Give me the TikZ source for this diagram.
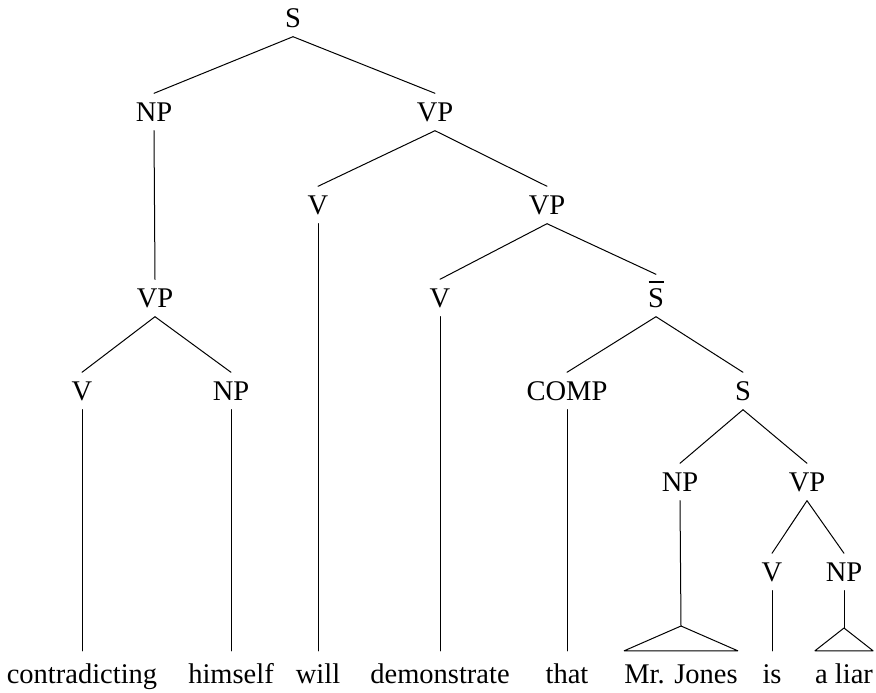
\documentclass[tikz,border=0pt]{standalone}
\usepackage{fontspec}
\setmainfont{Liberation Serif}
\begin{document}
\begin{tikzpicture}[x=1pt,y=-1pt,
  cat/.style={inner xsep=0pt,inner ysep=9pt,text height=19pt,text depth=0pt,
    font=\fontsize{28.5}{30}\selectfont},
  word/.style={anchor=base,inner xsep=0pt,inner ysep=13pt,text height=19pt,text depth=6pt,
    font=\fontsize{28.5}{30}\selectfont},
  branch/.style={line width=1pt,line cap=round}]
\useasboundingbox (0,0) rectangle (876,693);

% categories
\node[cat] (s0) at (293,18) {S};
\node[cat] (np1) at (154,112) {NP};
\node[cat] (vp1) at (435,112) {VP};
\node[cat] (v1) at (318,205) {V};
\node[cat] (vp2) at (547,205) {VP};
\node[cat] (vp3) at (155,298) {VP};
\node[cat] (v2) at (440,298) {V};
\node[cat] (sbar) at (656,298) {\rlap{\hspace{0.5pt}\rule[25pt]{15pt}{1.1pt}}S};
\node[cat] (v3) at (82,391) {V};
\node[cat] (np2) at (231,391) {NP};
\node[cat] (comp) at (567,391) {COMP};
\node[cat] (s2) at (743,391) {S};
\node[cat] (np3) at (680,482) {NP};
\node[cat] (vp4) at (807,482) {VP};
\node[cat] (v4) at (772,572) {V};
\node[cat] (np4) at (844,572) {NP};

% terminal words
\node[word] (w1) at (82,683) {contradicting};
\node[word] (w2) at (231,683) {himself};
\node[word] (w3) at (318,683) {will};
\node[word] (w4) at (440,683) {demonstrate};
\node[word] (w5) at (567,683) {that};
\node[word] (w6) at (681,683) {Mr. Jones};
\node[word] (w7) at (772,683) {is};
\node[word] (w8) at (844,683) {a liar};

\coordinate (t1) at (681,626);
\coordinate (t2) at (844,628);

% branches
\draw[branch] (s0.south) -- (np1.north);
\draw[branch] (s0.south) -- (vp1.north);
\draw[branch] (np1.south) -- (vp3.north);
\draw[branch] (vp1.south) -- (v1.north);
\draw[branch] (vp1.south) -- (vp2.north);
\draw[branch] (vp2.south) -- (v2.north);
\draw[branch] (vp2.south) -- ([yshift=5pt]sbar.north);
\draw[branch] (vp3.south) -- (v3.north);
\draw[branch] (vp3.south) -- (np2.north);
\draw[branch] (sbar.south) -- (comp.north);
\draw[branch] (sbar.south) -- (s2.north);
\draw[branch] (s2.south) -- (np3.north);
\draw[branch] (s2.south) -- (vp4.north);
\draw[branch] (vp4.south) -- (v4.north);
\draw[branch] (vp4.south) -- (np4.north);

% lines down to the words
\draw[branch] (v3.south) -- (w1.north);
\draw[branch] (np2.south) -- (w2.north);
\draw[branch] (v1.south) -- (w3.north);
\draw[branch] (v2.south) -- (w4.north);
\draw[branch] (comp.south) -- (w5.north);
\draw[branch] (v4.south) -- (w7.north);
\draw[branch] (np3.south) -- (t1);
\draw[branch] (np4.south) -- (t2);
\draw[branch,line join=round] (t1) -- (w6.north west) -- (w6.north east) -- cycle;
\draw[branch,line join=round] (t2) -- (w8.north west) -- (w8.north east) -- cycle;
\end{tikzpicture}
\end{document}
